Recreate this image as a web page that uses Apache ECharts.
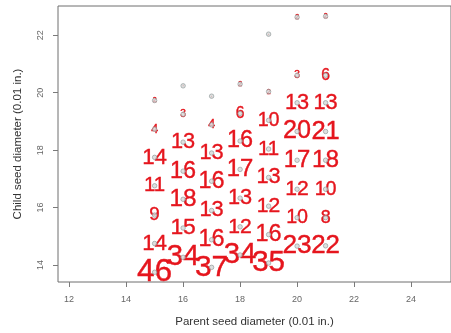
<!DOCTYPE html>
<html>
<head>
<meta charset="utf-8">
<script src="https://cdn.jsdelivr.net/npm/echarts@6/dist/echarts.min.js"></script>
<style>
  html, body { margin: 0; padding: 0; background: #ffffff; }
  #chart { width: 451px; height: 333px; }
</style>
</head>
<body>
<div id="chart"></div>
<script>
// Galton's sweet peas: offspring counts per parent seed diameter class
const parentSizes = [15, 16, 17, 18, 19, 20, 21];

// Child diameter (plotted position) for each class, per parent
const child15 = [13.75, 14.75, 15.74, 16.76, 17.75, 18.73, 19.73];
const child16 = [14.27, 15.29, 16.29, 17.27, 18.28, 19.25, 20.24];
const child17 = [13.92, 14.88, 15.90, 16.92, 17.90, 18.88, 19.88];
const child18 = [14.35, 15.33, 16.33, 17.33, 18.32, 19.28, 20.30];
const child19 = [14.07, 15.06, 16.05, 17.05, 18.04, 19.04, 20.04, 22.04];
const child20 = [14.66, 15.65, 16.64, 17.65, 18.65, 19.65, 20.61, 22.63];
const child21 = [14.67, 15.65, 16.64, 17.65, 18.65, 19.65, 20.61, 22.66];

// Number of offspring in each class
const count15 = [46, 14, 9, 11, 14, 4, 2];
const count16 = [34, 15, 18, 16, 13, 3, 1];
const count17 = [37, 16, 13, 16, 13, 4, 1];
const count18 = [34, 12, 13, 17, 16, 6, 2];
const count19 = [35, 16, 12, 13, 11, 10, 2, 1];
const count20 = [23, 10, 12, 17, 20, 13, 3, 2];
const count21 = [22, 8, 10, 18, 21, 13, 6, 2];

const xTicks = [12, 14, 16, 18, 20, 22, 24];
const yTicks = [14, 16, 18, 20, 22];

const childByParent = [child15, child16, child17, child18, child19, child20, child21];
const countByParent = [count15, count16, count17, count18, count19, count20, count21];

const rows = [];
parentSizes.forEach((p, i) => {
  childByParent[i].forEach((c, j) => rows.push([p, c, countByParent[i][j]]));
});

const tickText = { color: '#666', fontSize: 9, fontFamily: 'Liberation Sans' };

const chart = echarts.init(document.getElementById('chart'), null, { renderer: 'canvas' });
chart.setOption({
  animation: false,
  backgroundColor: '#ffffff',
  grid: {
    left: 58, top: 6, width: 400, height: 280,
    show: true, borderColor: '#6e6e6e', borderWidth: 1, backgroundColor: 'transparent'
  },
  xAxis: {
    type: 'value', min: 11.61, max: 25.4,
    name: 'Parent seed diameter (0.01 in.)',
    nameLocation: 'middle', nameGap: 34,
    nameTextStyle: { color: '#333', fontSize: 11.5, fontFamily: 'Liberation Sans' },
    axisLine: { show: false },
    splitLine: { show: false },
    axisTick: { show: true, length: 5, lineStyle: { color: '#7a7a7a' }, customValues: xTicks },
    axisLabel: Object.assign({ margin: 13, customValues: xTicks }, tickText)
  },
  yAxis: {
    type: 'value', min: 13.41, max: 23.02,
    name: 'Child seed diameter (0.01 in.)',
    nameLocation: 'middle', nameGap: 34,
    nameTextStyle: { color: '#333', fontSize: 11.5, fontFamily: 'Liberation Sans' },
    axisLine: { show: false },
    splitLine: { show: false },
    axisTick: { show: true, length: 5, lineStyle: { color: '#7a7a7a' }, customValues: yTicks },
    axisLabel: Object.assign({ margin: 13, rotate: 90, customValues: yTicks }, tickText)
  },
  series: [
    {
      type: 'custom',
      clip: true,
      data: rows,
      renderItem: function (params, api) {
        const pt = api.coord([api.value(0), api.value(1)]);
        const n = api.value(2);
        return {
          type: 'text',
          x: pt[0], y: pt[1],
          style: {
            text: String(n),
            fontSize: 7.9 * Math.log(n) + 1.5,
            fontFamily: 'Liberation Sans',
            fill: '#e5151d',
            stroke: '#e5151d',
            lineWidth: 0.4,
            align: 'center',
            verticalAlign: 'middle'
          }
        };
      },
      z: 2
    },
    {
      type: 'scatter',
      data: rows.map(r => [r[0], r[1]]),
      symbol: 'circle',
      symbolSize: 4.5,
      itemStyle: { color: '#d4d8d8', borderColor: '#8c9494', borderWidth: 0.8 },
      z: 3
    }
  ]
});
</script>
</body>
</html>
